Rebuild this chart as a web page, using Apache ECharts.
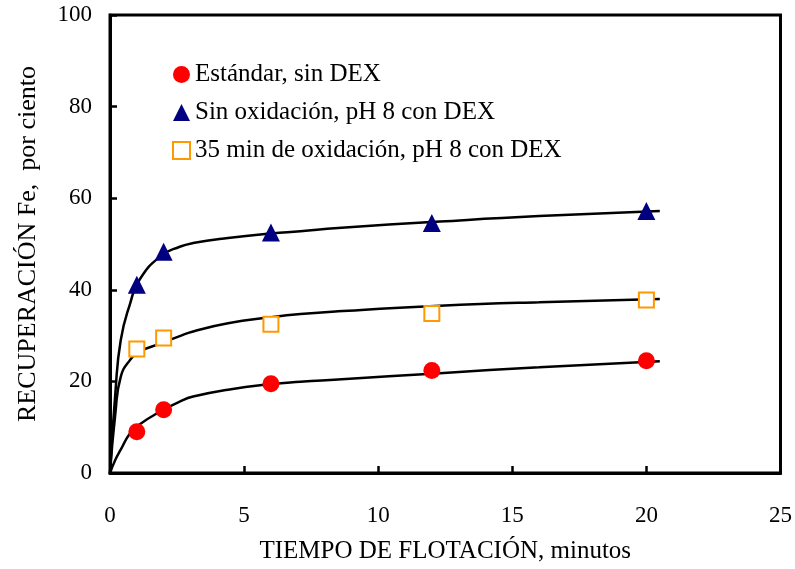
<!DOCTYPE html>
<html>
<head>
<meta charset="utf-8">
<script src="https://cdn.jsdelivr.net/npm/echarts@6/dist/echarts.min.js"></script>
<style>html,body{margin:0;padding:0;background:#fff;}#c{width:795px;height:569px;}</style>
</head>
<body>
<div id="c"></div>
<script>
// Measured data points (minutes, % recovery)
var timeMin = [1, 2, 6, 12, 20];
var estandar = [9.0, 13.8, 19.5, 22.4, 24.5];
var sinOxid = [41.1, 48.3, 52.5, 54.6, 57.2];
var oxid35 = [27.1, 29.5, 32.5, 34.8, 37.8];

// Fitted curves
var curveT = [0, 0.2, 0.4, 0.75, 1.1, 1.9, 2.6, 3.1, 4.4, 6, 7.1, 8.5, 12.3, 16, 20.5];
var curveEstandar = [0, 2.9, 5.1, 8.7, 10.6, 13.5, 15.6, 16.7, 18.2, 19.4, 19.9, 20.4, 21.8, 23.1, 24.4];
var curveSinOxid = [0, 17.5, 29, 37, 42.2, 47.4, 49.4, 50.2, 51.3, 52.3, 52.8, 53.5, 54.9, 56.1, 57.2];
var curveOxid35 = [0, 13, 21, 24.7, 26.5, 28.3, 29.9, 30.9, 32.7, 34.0, 34.7, 35.3, 36.5, 37.3, 38.0];

var xTicks = [0, 5, 10, 15, 20, 25];
var yTicks = [0, 20, 40, 60, 80, 100];

var legendNames = ['Estándar, sin DEX', 'Sin oxidación, pH 8 con DEX', '35 min de oxidación, pH 8 con DEX'];

function pairs(xs, ys) { return xs.map(function (x, i) { return [x, ys[i]]; }); }

var font = 'Liberation Serif, Times New Roman, serif';
var chart = echarts.init(document.getElementById('c'));
var curveStyle = { color: '#000', width: 2.5 };
chart.setOption({
  animation: false,
  backgroundColor: '#fff',
  textStyle: { fontFamily: font },
  grid: { left: 110, right: 14, top: 15, bottom: 96, show: true, borderColor: '#000', borderWidth: 3, backgroundColor: 'transparent' },
  legend: {
    orient: 'vertical', left: 167, top: 57, itemGap: 13, itemWidth: 17, itemHeight: 17,
    textStyle: { fontFamily: font, fontSize: 25, color: '#000' },
    data: [
      { name: legendNames[0], icon: 'circle' },
      { name: legendNames[1], icon: 'triangle' },
      { name: legendNames[2], icon: 'rect', itemStyle: { color: '#fff', borderColor: '#FF9900', borderWidth: 2 } }
    ]
  },
  xAxis: {
    type: 'value', min: 0, max: 25, interval: 5,
    name: 'TIEMPO DE FLOTACIÓN, minutos', nameLocation: 'middle', nameGap: 66,
    nameTextStyle: { fontFamily: font, fontSize: 25, color: '#000' },
    axisLine: { show: true, lineStyle: { color: '#000', width: 3 } },
    axisTick: { show: true, inside: true, length: 7, lineStyle: { color: '#000', width: 2.5 } },
    axisLabel: { fontFamily: font, fontSize: 23, color: '#000', margin: 31 },
    splitLine: { show: false }
  },
  yAxis: {
    type: 'value', min: 0, max: 100, interval: 20,
    name: 'RECUPERACIÓN Fe,  por ciento', nameLocation: 'middle', nameGap: 69,
    nameTextStyle: { fontFamily: font, fontSize: 26, color: '#000' },
    axisLine: { show: true, lineStyle: { color: '#000', width: 3 } },
    axisTick: { show: true, inside: true, length: 7, lineStyle: { color: '#000', width: 2.5 } },
    axisLabel: { fontFamily: font, fontSize: 23, color: '#000', margin: 18 },
    splitLine: { show: false }
  },
  series: [
    { name: 'c1', type: 'line', data: pairs(curveT, curveEstandar), smooth: 0.5, showSymbol: false, lineStyle: curveStyle, z: 2, silent: true },
    { name: 'c2', type: 'line', data: pairs(curveT, curveSinOxid), smooth: 0.5, showSymbol: false, lineStyle: curveStyle, z: 2, silent: true },
    { name: 'c3', type: 'line', data: pairs(curveT, curveOxid35), smooth: 0.5, showSymbol: false, lineStyle: curveStyle, z: 2, silent: true },
    { name: legendNames[0], type: 'scatter', data: pairs(timeMin, estandar), symbol: 'circle', symbolSize: 17, itemStyle: { color: '#FF0000', opacity: 1 }, z: 3 },
    { name: legendNames[1], type: 'scatter', data: pairs(timeMin, sinOxid), symbol: 'triangle', symbolSize: 18, itemStyle: { color: '#000080', opacity: 1 }, z: 3 },
    { name: legendNames[2], type: 'scatter', data: pairs(timeMin, oxid35), symbol: 'rect', symbolSize: 15, itemStyle: { color: '#fff', borderColor: '#FF9900', borderWidth: 2, opacity: 1 }, z: 3 }
  ]
});
</script>
</body>
</html>
